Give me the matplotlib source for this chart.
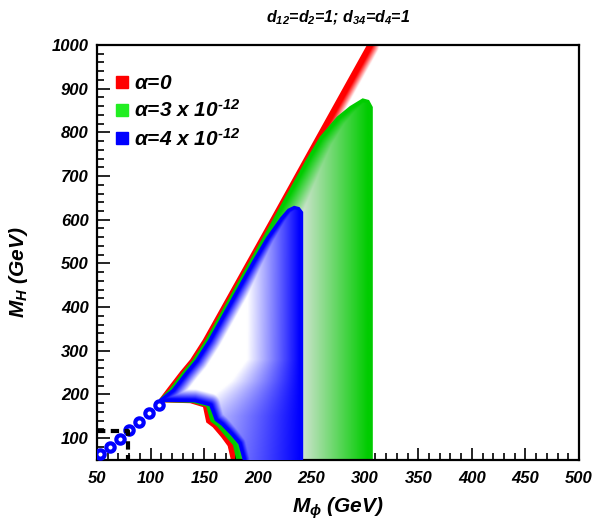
import numpy as np
import matplotlib
matplotlib.use('Agg')
import matplotlib.pyplot as plt
from matplotlib.patches import Polygon
from matplotlib.lines import Line2D

plt.rcParams['font.family'] = 'Liberation Sans'
plt.rcParams['font.weight'] = 'bold'
plt.rcParams['font.style'] = 'italic'
plt.rcParams['axes.labelweight'] = 'bold'
plt.rcParams['mathtext.fontset'] = 'custom'
plt.rcParams['mathtext.rm'] = 'Liberation Sans'
plt.rcParams['mathtext.it'] = 'Liberation Sans:bold:italic'
plt.rcParams['mathtext.bf'] = 'Liberation Sans:bold:italic'

# upper (diagonal) edge of the allowed region, alpha=0
diag_x = [108, 115, 127.5, 137, 149, 167, 190, 213, 246, 302]
diag_y = [189, 212, 252, 280, 326, 405, 506, 607, 753, 1000]

# lower edges (tongue + falling curve) for each alpha
red_low_x = [108, 137, 149, 152, 158, 166, 172, 175]
red_low_y = [182, 180, 171, 136, 125, 102, 82, 50]
green_low_x = [108, 139, 152, 156, 162, 170, 177, 180]
green_low_y = [182.5, 181, 172, 138, 127, 104, 84, 50]
blue_low_x = [108, 141, 155, 160, 166, 175, 182, 186]
blue_low_y = [183, 182, 173, 140, 129, 106, 86, 50]

# tops of the green and blue regions
green_top_x = [245, 258, 274, 286, 298, 304, 307.5]
green_top_y = [737, 790, 836, 860, 878, 874, 858]
green_right = 307.5
blue_top_x = [208, 221, 228, 234, 239, 242.5]
blue_top_y = [560, 605, 625, 632, 629, 618]
blue_right = 242.5

# alpha = 4e-12 points along MH ~ 2 Mphi line
mk_x = [53, 62, 71.5, 80, 89, 98.5, 108]
mk_y = [64, 80, 98, 118, 137, 157, 175]

# dashed box
box_x = [50, 79, 79]
box_y = [116, 116, 50]

labels = [r'$\mathrm{\alpha}$=0', '$\\mathrm{\\alpha}$=3 x 10$^{\u2010 12}$', '$\\mathrm{\\alpha}$=4 x 10$^{\u2010 12}$']

x0, x1, y0, y1 = 50, 500, 50, 1000
sx, sy = 1.071, 0.4378   # pixels per data unit

nx, ny = 700, 900
gx = np.linspace(x0, x1, nx)
gy = np.linspace(y0, y1, ny)
GX, GY = np.meshgrid(gx, gy)
PX, PY = GX * sx, GY * sy


def dist_polyline(xs, ys):
    d = np.full(PX.shape, 1e9)
    for i in range(len(xs) - 1):
        ax0, ay0 = xs[i] * sx, ys[i] * sy
        ax1, ay1 = xs[i + 1] * sx, ys[i + 1] * sy
        dx, dy = ax1 - ax0, ay1 - ay0
        t = np.clip(((PX - ax0) * dx + (PY - ay0) * dy) / (dx * dx + dy * dy), 0, 1)
        d = np.minimum(d, np.hypot(PX - ax0 - t * dx, PY - ay0 - t * dy))
    return d


def region(lowx, lowy, shift, top_x, top_y, right):
    dx = [diag_x[0]] + [v + shift for v in diag_x[1:]]
    dy = list(diag_y)
    if top_x:
        keep = [i for i in range(len(dy)) if dy[i] < top_y[0]]
        dx = [dx[i] for i in keep] + list(top_x)
        dy = [dy[i] for i in keep] + list(top_y)
    edge_x = list(lowx[::-1]) + dx
    edge_y = list(lowy[::-1]) + dy
    poly_x = edge_x + [right, right]
    poly_y = edge_y + [edge_y[-1], y0]
    return edge_x, edge_y, poly_x, poly_y


fig = plt.figure(figsize=(6.06, 5.21), dpi=100)
ax = fig.add_axes([97 / 606, 61 / 521, 482 / 606, 415 / 521])
ax.set_xlim(x0, x1)
ax.set_ylim(y0, y1)


def draw(edge_x, edge_y, poly_x, poly_y, color, base, core, fade, ramp, z):
    d = dist_polyline(edge_x, edge_y)
    I = np.clip(1 - (d - core) / fade, 0, 1)
    if ramp is not None:
        xa = np.interp(GY, ramp[0], ramp[1])
        I = np.maximum(I, np.clip((GX - xa) / (ramp[2] - xa), 0, 1))
    c = np.array(color)
    b = np.array(base)
    rgb = b[None, None, :] * (1 - I[..., None]) + c[None, None, :] * I[..., None]
    im = ax.imshow(rgb, extent=[x0, x1, y0, y1], origin='lower', aspect='auto',
                   interpolation='bilinear', zorder=z)
    poly = Polygon(np.column_stack([poly_x, poly_y]), closed=True, transform=ax.transData)
    im.set_clip_path(poly)


ex, ey, px_, py_ = region(red_low_x, red_low_y, 0, [], [], 345)
px_ = ex + [345, 345]
py_ = ey + [1000, 50]
draw(ex, ey, px_, py_, (1, 0, 0), (1, 1, 1), 5.5, 7, None, 1)

ex, ey, px_, py_ = region(green_low_x, green_low_y, 2.5, green_top_x, green_top_y, green_right)
draw(ex, ey, px_, py_, (0.0, 0.8, 0.0), (0.9, 0.9, 0.9), 3, 22,
     ([50, 1000], [235, 235], 303), 2)

ex, ey, px_, py_ = region(blue_low_x, blue_low_y, 5, blue_top_x, blue_top_y, blue_right)
draw(ex, ey, px_, py_, (0, 0, 1), (1, 1, 1), 3, 10,
     ([50, 150, 190, 230, 280, 1000], [120, 135, 155, 175, 190, 192], 239), 3)

ax.plot(mk_x, mk_y, ls='none', marker='o', ms=6, mfc='white', mec='blue', mew=3, zorder=5)
ax.plot(box_x, box_y, color='black', lw=3, ls=(0, (2, 1.3)), zorder=6)

handles = [Line2D([], [], ls='none', marker='s', ms=9, color=c)
           for c in ['#ff0000', '#22ee22', '#0000ff']]
leg = ax.legend(handles, labels, loc='upper left', bbox_to_anchor=(0.0, 0.965),
                frameon=False, fontsize=15, handletextpad=0.1, labelspacing=0.3,
                handlelength=1.0, borderaxespad=0.3)

ax.set_xticks(np.arange(50, 501, 50))
ax.set_xticks(np.arange(50, 501, 10), minor=True)
ax.set_yticks(np.arange(100, 1001, 100))
ax.set_yticks(np.arange(60, 1001, 20), minor=True)
ax.tick_params(which='both', direction='in', top=False, right=False, labelsize=12, width=1.2)
ax.tick_params(which='major', length=9)
ax.tick_params(axis='x', which='major', pad=8)
ax.tick_params(axis='y', which='major', pad=6)
ax.tick_params(which='minor', length=5)
for s in ax.spines.values():
    s.set_linewidth(1.6)

ax.set_xlabel(r'$M_{\mathrm{\phi}}$ (GeV)', fontsize=15)
ax.set_ylabel(r'$M_H$ (GeV)', fontsize=15)
ax.xaxis.set_label_coords(0.5, -0.085)
ax.yaxis.set_label_coords(-0.139, 0.453)
fig.text(0.558, 1 - 18 / 521, r'$d_{12}$=$d_2$=1; $d_{34}$=$d_4$=1', ha='center', va='center', fontsize=11.5)

fig.savefig('out.png', dpi=100)
